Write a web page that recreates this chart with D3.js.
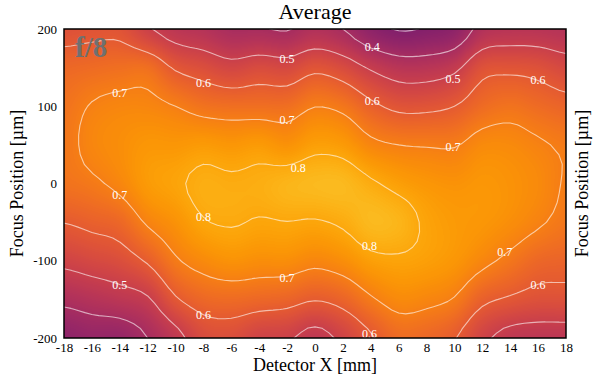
<!DOCTYPE html>
<html>
<head>
<meta charset="utf-8">
<script src="https://cdn.jsdelivr.net/npm/d3@7"></script>
<style>
body { margin: 0; background: #fff; }
svg text { font-family: "Liberation Serif", "Times New Roman", Tinos, "DejaVu Serif", serif !important; }
</style>
</head>
<body>
<div id="chart"></div>
<script>
// measurement grid: detector x (mm) and focus position (um, top row first)
const detectorX = [-18, -16, -14, -12, -10, -8, -6, -4, -2, 0, 2, 4, 6, 8, 10, 12, 14, 16, 18];
const focusPos = [200, 150, 100, 50, 0, -50, -100, -150, -200];

// averaged value along detector x, one array per focus position
const f200  = [0.57, 0.58, 0.58, 0.51, 0.46, 0.44, 0.405, 0.405, 0.395, 0.43, 0.40, 0.33, 0.295, 0.305, 0.33, 0.43, 0.45, 0.45, 0.44];
const f150  = [0.64, 0.65, 0.66, 0.66, 0.59, 0.56, 0.53, 0.55, 0.54, 0.58, 0.55, 0.49, 0.45, 0.45, 0.48, 0.57, 0.58, 0.57, 0.54];
const f100  = [0.67, 0.705, 0.72, 0.72, 0.70, 0.67, 0.66, 0.66, 0.66, 0.698, 0.68, 0.62, 0.58, 0.58, 0.60, 0.65, 0.67, 0.65, 0.63];
const f50   = [0.68, 0.72, 0.74, 0.76, 0.76, 0.77, 0.76, 0.77, 0.75, 0.78, 0.77, 0.72, 0.70, 0.695, 0.695, 0.73, 0.73, 0.71, 0.69];
const f0    = [0.67, 0.687, 0.72, 0.77, 0.79, 0.815, 0.81, 0.815, 0.83, 0.84, 0.84, 0.81, 0.78, 0.76, 0.75, 0.76, 0.75, 0.73, 0.695];
const fm50  = [0.602, 0.62, 0.64, 0.71, 0.75, 0.795, 0.805, 0.795, 0.799, 0.795, 0.81, 0.84, 0.83, 0.79, 0.77, 0.76, 0.74, 0.71, 0.68];
const fm100 = [0.52, 0.54, 0.56, 0.61, 0.69, 0.73, 0.75, 0.74, 0.74, 0.72, 0.74, 0.78, 0.79, 0.78, 0.76, 0.72, 0.68, 0.64, 0.63];
const fm150 = [0.42, 0.44, 0.46, 0.49, 0.59, 0.64, 0.65, 0.64, 0.63, 0.605, 0.63, 0.69, 0.73, 0.72, 0.695, 0.62, 0.59, 0.57, 0.57];
const fm200 = [0.33, 0.35, 0.35, 0.40, 0.47, 0.55, 0.56, 0.52, 0.51, 0.47, 0.52, 0.59, 0.65, 0.64, 0.605, 0.52, 0.47, 0.46, 0.46];

const contourLevels = [0.3, 0.4, 0.5, 0.6, 0.7, 0.8];
const xTicks = [-18, -16, -14, -12, -10, -8, -6, -4, -2, 0, 2, 4, 6, 8, 10, 12, 14, 16, 18];
const yTicks = [200, 100, 0, -100, -200];

// inline contour labels
const labelText = ["0.4", "0.5", "0.5", "0.6", "0.6", "0.6", "0.7", "0.7", "0.7", "0.8", "0.7", "0.8", "0.8", "0.7", "0.5", "0.7", "0.6", "0.6", "0.6"];
const labelX = [4.1, -2.0, 9.9, -8.0, 4.1, 16.0, -14.0, -2.0, 9.9, -1.2, -14.0, -8.0, 3.9, 13.6, -14.0, -2.0, 16.0, -8.0, 3.9];
const labelY = [177, 162, 135, 130, 107, 134, 118, 82, 47, 20, -15, -43, -80, -89, -131, -122, -131, -170, -194];

const serif = "'Liberation Serif', 'Times New Roman', Tinos, 'DejaVu Serif', serif";

const margin = {top: 29, left: 64}
    , width = 502
    , height = 309;

const svg = d3.select("#chart").append("svg")
    .attr("width", 600)
    .attr("height", 375)
    .attr("font-family", serif);

const g = svg.append("g")
    .attr("transform", "translate(" + margin.left + "," + margin.top + ")");

const x = d3.scaleLinear().domain([-18, 18]).range([0, width]);
const y = d3.scaleLinear().domain([-200, 200]).range([height, 0]);
const color = d3.scaleSequential(d3.interpolateInferno).domain([-0.105, 1.02]);

const grid = [f200, f150, f100, f50, f0, fm50, fm100, fm150, fm200];
const nx = detectorX.length, ny = focusPos.length;
const col = d3.scaleLinear().domain([detectorX[0], detectorX[nx - 1]]).range([0, nx - 1]);
const row = d3.scaleLinear().domain([focusPos[0], focusPos[ny - 1]]).range([0, ny - 1]);

function at(i, j) {
    i = Math.max(0, Math.min(nx - 1, i));
    j = Math.max(0, Math.min(ny - 1, j));
    return grid[j][i];
}
function cr(p0, p1, p2, p3, t) {
    return p1 + 0.5 * t * (p2 - p0 + t * (2 * p0 - 5 * p1 + 4 * p2 - p3 + t * (3 * (p1 - p2) + p3 - p0)));
}
function sample(gx, gy) {
    const i = Math.floor(gx), j = Math.floor(gy);
    const tx = gx - i, ty = gy - j;
    const r = [];
    for (let k = -1; k <= 2; k++) r.push(cr(at(i - 1, j + k), at(i, j + k), at(i + 1, j + k), at(i + 2, j + k), tx));
    return cr(r[0], r[1], r[2], r[3], ty);
}

// smooth heat map
const canvas = document.createElement("canvas");
canvas.width = width;
canvas.height = height;
const ctx = canvas.getContext("2d");
const img = ctx.createImageData(width, height);
for (let py = 0; py < height; py++) {
    for (let px = 0; px < width; px++) {
        const v = sample(col(x.invert(px + 0.5)), row(y.invert(py + 0.5)));
        const c = d3.rgb(color(v));
        const k = (py * width + px) * 4;
        img.data[k] = c.r; img.data[k + 1] = c.g; img.data[k + 2] = c.b; img.data[k + 3] = 255;
    }
}
ctx.putImageData(img, 0, 0);

g.append("image")
    .attr("width", width)
    .attr("height", height)
    .attr("preserveAspectRatio", "none")
    .attr("href", canvas.toDataURL());

g.append("clipPath").attr("id", "plotclip")
    .append("rect").attr("width", width).attr("height", height);

// refined field for contouring (same smooth surface as the heat map)
const sub = 4;
const fx = (nx - 1) * sub + 1, fy = (ny - 1) * sub + 1;
const fine = [];
for (let j = 0; j < fy; j++) {
    const r = [];
    for (let i = 0; i < fx; i++) r.push(sample(i / sub, j / sub));
    fine.push(r);
}

// marching squares
function segments(level) {
    const segs = [];
    for (let j = 0; j < fy - 1; j++) {
        for (let i = 0; i < fx - 1; i++) {
            const v = [fine[j][i], fine[j][i + 1], fine[j + 1][i + 1], fine[j + 1][i]];
            const corners = [[i, j], [i + 1, j], [i + 1, j + 1], [i, j + 1]];
            const edges = [null, null, null, null];
            let count = 0;
            for (let e = 0; e < 4; e++) {
                const a = v[e], b = v[(e + 1) % 4];
                if ((a >= level) !== (b >= level)) {
                    const t = (level - a) / (b - a);
                    const ca = corners[e], cb = corners[(e + 1) % 4];
                    edges[e] = [(ca[0] + t * (cb[0] - ca[0])) / sub, (ca[1] + t * (cb[1] - ca[1])) / sub];
                    count++;
                }
            }
            if (count === 2) {
                segs.push(edges.filter(d => d));
            } else if (count === 4) {
                const center = (v[0] + v[1] + v[2] + v[3]) / 4;
                if ((center >= level) === (v[0] >= level)) {
                    segs.push([edges[0], edges[1]], [edges[2], edges[3]]);
                } else {
                    segs.push([edges[3], edges[0]], [edges[1], edges[2]]);
                }
            }
        }
    }
    return segs;
}

const pt = p => x(col.invert(p[0])).toFixed(2) + "," + y(row.invert(p[1])).toFixed(2);

g.append("g")
    .attr("clip-path", "url(#plotclip)")
    .selectAll("path")
    .data(contourLevels)
    .enter().append("path")
    .attr("d", lv => segments(lv).map(s => "M" + pt(s[0]) + "L" + pt(s[1])).join(""))
    .attr("fill", "none")
    .attr("stroke", "#fff")
    .attr("stroke-opacity", 0.6)
    .attr("stroke-width", 1.1)
    .attr("stroke-linecap", "round")
    .attr("stroke-linejoin", "round");

g.selectAll(".clabel")
    .data(labelText)
    .enter().append("text")
    .attr("class", "clabel")
    .attr("x", (d, i) => x(labelX[i]))
    .attr("y", (d, i) => y(labelY[i]))
    .attr("dy", "0.35em")
    .attr("text-anchor", "middle")
    .attr("font-family", serif)
    .attr("font-size", 12)
    .attr("fill", "#fff")
    .text(d => d);

// f-number tag
g.append("text")
    .attr("x", 11)
    .attr("y", 28)
    .attr("font-family", serif)
    .attr("font-size", 29)
    .attr("font-weight", "bold")
    .attr("fill", "#6f7070")
    .text("f/8");

g.append("rect")
    .attr("width", width)
    .attr("height", height)
    .attr("fill", "none")
    .attr("stroke", "#000")
    .attr("stroke-width", 1.5);

const xAxis = g.append("g")
    .attr("transform", "translate(0," + height + ")")
    .call(d3.axisBottom(x).tickValues(xTicks).tickSize(0).tickPadding(5).tickFormat(d => String(d)));
xAxis.select(".domain").remove();
xAxis.attr("font-size", 13).attr("font-family", serif).selectAll("text").attr("fill", "#000");

const yAxis = g.append("g")
    .call(d3.axisLeft(y).tickValues(yTicks).tickSize(0).tickPadding(7).tickFormat(d => String(d)));
yAxis.select(".domain").remove();
yAxis.attr("font-size", 13).attr("font-family", serif).selectAll("text").attr("fill", "#000");

svg.append("text")
    .attr("x", margin.left + width / 2)
    .attr("y", 19)
    .attr("text-anchor", "middle")
    .attr("font-family", serif)
    .attr("font-size", 22)
    .text("Average");

svg.append("text")
    .attr("x", margin.left + width / 2)
    .attr("y", 371)
    .attr("text-anchor", "middle")
    .attr("font-family", serif)
    .attr("font-size", 18)
    .text("Detector X [mm]");

[23, 588].forEach(function (lx) {
    svg.append("text")
        .attr("transform", "translate(" + lx + "," + (margin.top + height / 2) + ") rotate(-90)")
        .attr("text-anchor", "middle")
        .attr("font-family", serif)
        .attr("font-size", 18)
        .text("Focus Position [µm]");
});
</script>
</body>
</html>
